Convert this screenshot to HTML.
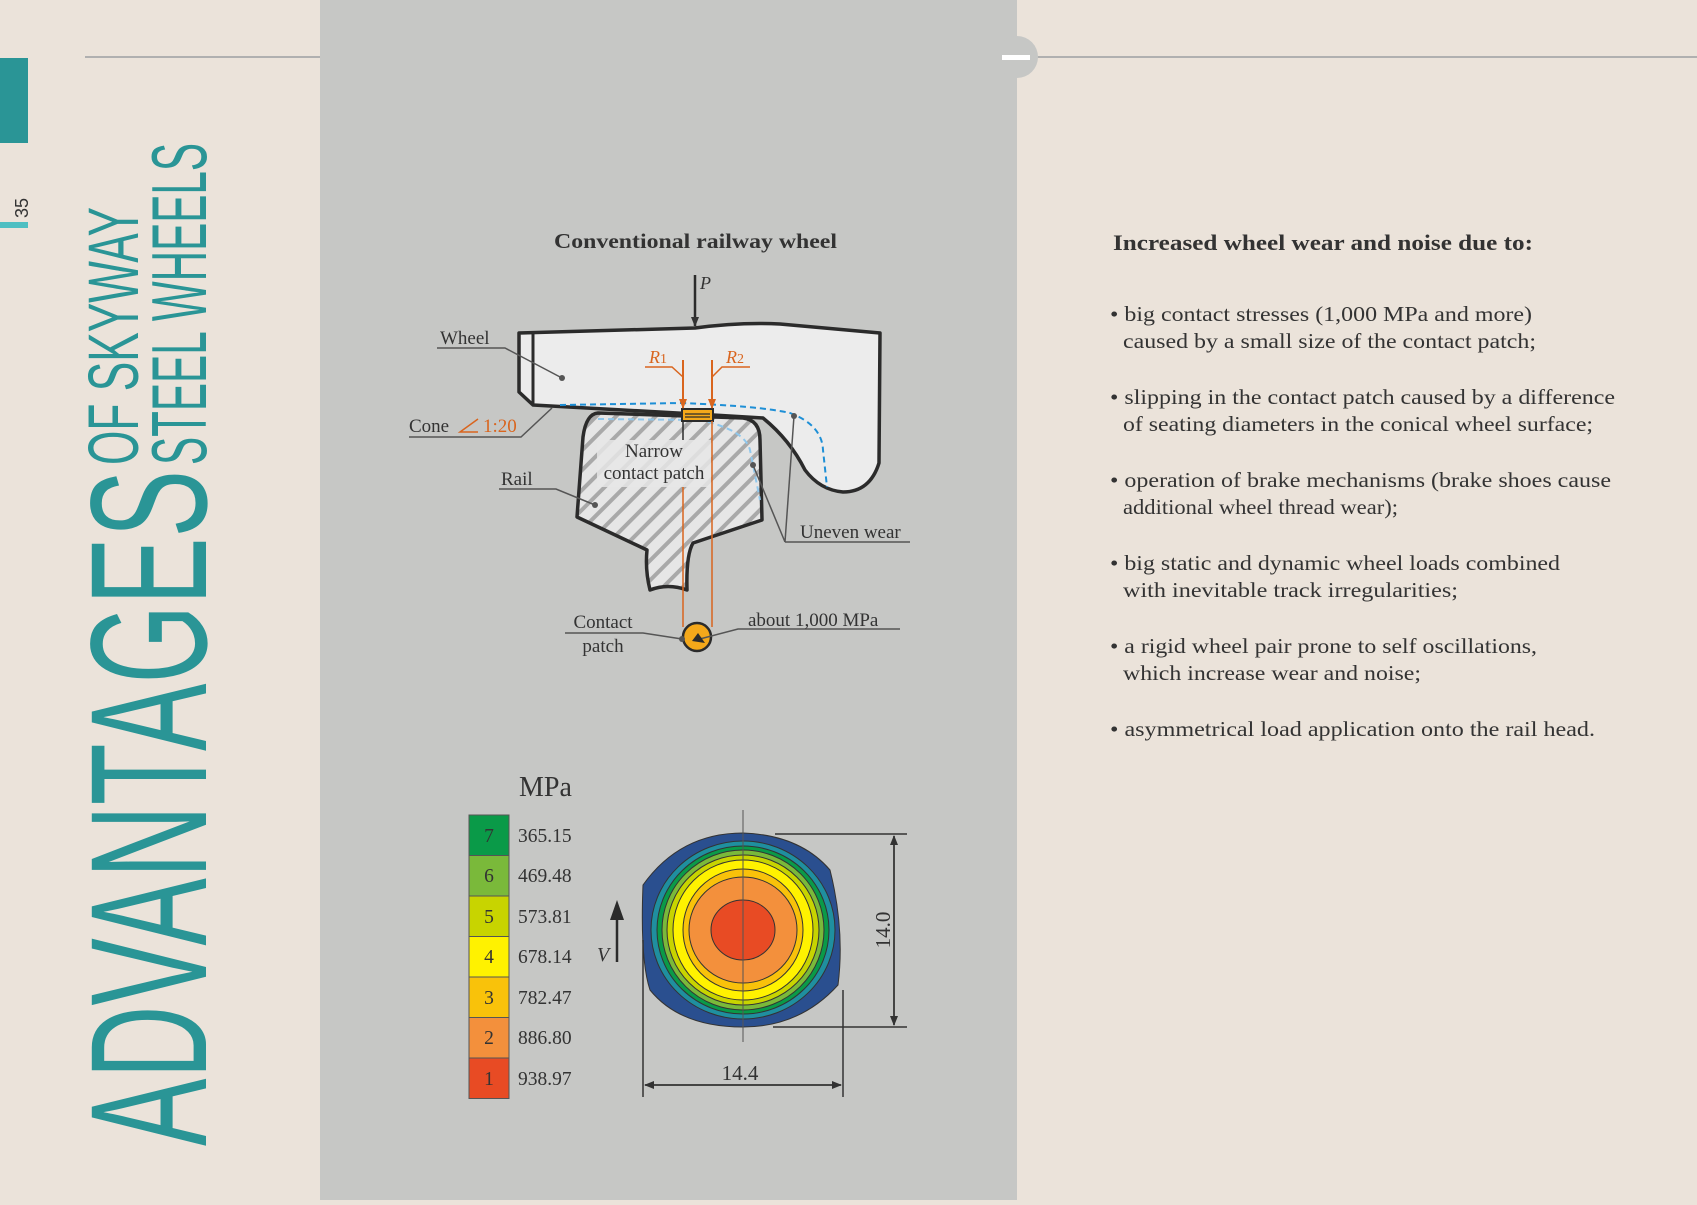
<!DOCTYPE html>
<html><head><meta charset="utf-8"><style>
html,body{margin:0;padding:0;}
body{width:1697px;height:1200px;background:#ebe3da;overflow:hidden;}
svg text{font-family:"Liberation Serif",serif;fill:#333;}
</style></head><body>
<svg width="1697" height="1200" viewBox="0 0 1697 1200" xmlns="http://www.w3.org/2000/svg">
<defs>
<pattern id="h" width="14" height="14" patternUnits="userSpaceOnUse" patternTransform="rotate(45)">
<rect width="14" height="14" fill="#e6e6e6"/><rect width="4" height="14" fill="#a9a9a9"/>
</pattern>
<marker id="ab" markerWidth="10" markerHeight="10" refX="9" refY="5" orient="auto" markerUnits="userSpaceOnUse"><path d="M0,1 L10,5 L0,9z" fill="#333"/></marker>
<marker id="ao" markerWidth="10" markerHeight="10" refX="9" refY="5" orient="auto" markerUnits="userSpaceOnUse"><path d="M0,1 L10,5 L0,9z" fill="#d9651e"/></marker>
</defs>
<rect x="320" y="0" width="697" height="1200" fill="#c6c7c5"/>
<line x1="85" y1="57" x2="320" y2="57" stroke="#b0b0b0" stroke-width="2"/>
<line x1="1037" y1="57" x2="1697" y2="57" stroke="#b0b0b0" stroke-width="2"/>
<circle cx="1017" cy="57" r="21" fill="#c6c7c5"/>
<rect x="1002" y="55" width="28" height="5" fill="#fff"/>
<rect x="0" y="58" width="28" height="85" fill="#2a9596"/>
<rect x="0" y="222" width="28" height="6" fill="#4dbfc2"/>
<text transform="translate(28,218) rotate(-90)" font-size="18" style="font-family:'Liberation Sans Narrow','Liberation Sans',sans-serif">35</text>
<g style="font-family:'Liberation Sans Narrow','Liberation Sans',sans-serif">
<text transform="translate(206,1146) rotate(-90)" font-size="166" textLength="676" lengthAdjust="spacingAndGlyphs" style="fill:#2a9596;font-family:'Liberation Sans Narrow','Liberation Sans',sans-serif">ADVANTAGES</text>
<text transform="translate(138,465) rotate(-90)" font-size="71" textLength="258" lengthAdjust="spacingAndGlyphs" style="fill:#2a9596;font-family:'Liberation Sans Narrow','Liberation Sans',sans-serif">OF SKYWAY</text>
<text transform="translate(206,465) rotate(-90)" font-size="78" textLength="322" lengthAdjust="spacingAndGlyphs" style="fill:#2a9596;font-family:'Liberation Sans Narrow','Liberation Sans',sans-serif">STEEL WHEELS</text>
</g>
<text x="554" y="248" font-size="21" font-weight="bold" textLength="283" lengthAdjust="spacingAndGlyphs">Conventional railway wheel</text>
<!-- wheel -->
<path d="M519,333 L695,328 Q740,322 780,324 L880,333 L879,463 Q870,492 843,492 Q820,490 805,470 Q790,440 763,418 L713,415 L533,405 L519,392 Z" fill="#ececec" stroke="#2b2b2b" stroke-width="3.5" stroke-linejoin="round"/>
<line x1="533" y1="333" x2="533" y2="405" stroke="#2b2b2b" stroke-width="3"/>
<!-- rail -->
<path d="M598,413 L743,418 Q760,420 760,440 L762,520 L693,543 Q686,555 687,590 Q668,583 650,590 Q645,570 647,550 L577,517 L583,437 Q586,414 598,413 Z" fill="url(#h)" stroke="#2b2b2b" stroke-width="3.5" stroke-linejoin="round"/>
<path d="M560,405 L680,403 Q760,406 790,413 Q822,425 823,450 L827,487" fill="none" stroke="#1e8fd6" stroke-width="2" stroke-dasharray="6,4"/>
<path d="M598,419 L700,420 Q745,430 750,450 L760,500" fill="none" stroke="#8fc7ec" stroke-width="2" stroke-dasharray="6,4"/>
<rect x="682" y="409" width="31" height="12" fill="#f4a81a" stroke="#2b2b2b" stroke-width="2"/>
<line x1="685" y1="414" x2="710" y2="414" stroke="#2b2b2b" stroke-width="1.2"/>
<line x1="685" y1="417" x2="710" y2="417" stroke="#2b2b2b" stroke-width="1.2"/>
<!-- P -->
<line x1="695" y1="275" x2="695" y2="326" stroke="#2b2b2b" stroke-width="2.5" marker-end="url(#ab)"/>
<text x="700" y="289" font-size="18" font-style="italic">P</text>
<!-- R lines -->
<line x1="683" y1="360" x2="683" y2="408" stroke="#d9651e" stroke-width="2" marker-end="url(#ao)"/>
<line x1="712" y1="360" x2="712" y2="408" stroke="#d9651e" stroke-width="2" marker-end="url(#ao)"/>
<polyline points="645,367 672,367 683,377" fill="none" stroke="#d9651e" stroke-width="1.5"/>
<polyline points="750,367 722,367 712,377" fill="none" stroke="#d9651e" stroke-width="1.5"/>
<text x="649" y="363" font-size="18" font-style="italic" style="fill:#d9651e">R<tspan font-size="14" font-style="normal">1</tspan></text>
<text x="726" y="363" font-size="18" font-style="italic" style="fill:#d9651e">R<tspan font-size="14" font-style="normal">2</tspan></text>
<line x1="683" y1="421" x2="683" y2="440" stroke="#2b2b2b" stroke-width="1.5"/>
<line x1="683" y1="487" x2="683" y2="627" stroke="#d9651e" stroke-width="1.5"/>
<line x1="712" y1="421" x2="712" y2="627" stroke="#d9651e" stroke-width="1.5"/>
<rect x="597" y="440" width="114" height="47" fill="#e6e6e6" opacity="0.85"/>
<text x="654" y="457" font-size="19" text-anchor="middle">Narrow</text>
<text x="654" y="479" font-size="19" text-anchor="middle">contact patch</text>
<circle cx="697" cy="637" r="14" fill="#f4a81a" stroke="#2b2b2b" stroke-width="2.5"/>
<!-- labels -->
<g stroke="#555" stroke-width="1.5" fill="none">
<polyline points="437,348 505,348 562,378"/>
<polyline points="409,437 521,437 552,408"/>
<polyline points="499,489 556,489 595,505"/>
<polyline points="785,542 910,542"/>
<line x1="785" y1="542" x2="794" y2="416"/>
<line x1="785" y1="542" x2="753" y2="465"/>
<polyline points="565,633 643,633 682,639"/>
<polyline points="900,629 738,629 696,640"/>
</g>
<g fill="#555"><circle cx="562" cy="378" r="3"/><circle cx="595" cy="505" r="3"/><circle cx="794" cy="416" r="3"/><circle cx="753" cy="465" r="3"/><circle cx="682" cy="639" r="3"/></g>
<path d="M705,643 L692,641 L698,633 Z" fill="#2b2b2b"/>
<text x="440" y="344" font-size="19">Wheel</text>
<text x="409" y="432" font-size="19">Cone</text>
<polyline points="478,419 460,432 478,432" fill="none" stroke="#d9651e" stroke-width="1.5"/>
<text x="483" y="432" font-size="19" style="fill:#d9651e">1:20</text>
<text x="501" y="485" font-size="19">Rail</text>
<text x="800" y="538" font-size="19">Uneven wear</text>
<text x="603" y="628" font-size="19" text-anchor="middle">Contact</text>
<text x="603" y="652" font-size="19" text-anchor="middle">patch</text>
<text x="748" y="626" font-size="19">about 1,000 MPa</text>
<!-- legend -->
<text x="519" y="796" font-size="28">MPa</text>
<g stroke="#555" stroke-width="1">
<rect x="469" y="815" width="40" height="40.5" fill="#0a9a48"/>
<rect x="469" y="855.5" width="40" height="40.5" fill="#7ab93a"/>
<rect x="469" y="896" width="40" height="40.5" fill="#c8d400"/>
<rect x="469" y="936.5" width="40" height="40.5" fill="#fff200"/>
<rect x="469" y="977" width="40" height="40.5" fill="#f9c20a"/>
<rect x="469" y="1017.5" width="40" height="40.5" fill="#f3903c"/>
<rect x="469" y="1058" width="40" height="40.5" fill="#e84b24"/>
</g>
<g font-size="19.5">
<text x="489" y="842" text-anchor="middle">7</text><text x="518" y="842">365.15</text>
<text x="489" y="882" text-anchor="middle">6</text><text x="518" y="882">469.48</text>
<text x="489" y="923" text-anchor="middle">5</text><text x="518" y="923">573.81</text>
<text x="489" y="963" text-anchor="middle">4</text><text x="518" y="963">678.14</text>
<text x="489" y="1004" text-anchor="middle">3</text><text x="518" y="1004">782.47</text>
<text x="489" y="1044" text-anchor="middle">2</text><text x="518" y="1044">886.80</text>
<text x="489" y="1085" text-anchor="middle">1</text><text x="518" y="1085">938.97</text>
</g>
<line x1="617" y1="962" x2="617" y2="905" stroke="#2b2b2b" stroke-width="2.5"/>
<path d="M617,900 L610,920 L624,920 Z" fill="#2b2b2b"/>
<text x="597" y="961" font-size="20" font-style="italic">V</text>
<!-- contour -->
<g stroke="#333" stroke-width="1">
<path d="M643,885 Q680,833 743,833 Q800,835 830,870 Q845,930 838,985 Q800,1027 743,1027 Q680,1027 650,990 Q640,960 643,885 Z" fill="#2a4f8f"/>
<ellipse cx="743" cy="930" rx="92" ry="89" fill="#1f8f9f"/>
<ellipse cx="743" cy="930" rx="86" ry="84" fill="#0a9a48"/>
<ellipse cx="743" cy="930" rx="81" ry="80" fill="#7ab93a"/>
<ellipse cx="743" cy="930" rx="76" ry="75" fill="#c8d400"/>
<ellipse cx="743" cy="930" rx="70" ry="70" fill="#fff200"/>
<ellipse cx="743" cy="930" rx="60" ry="61" fill="#f9c20a"/>
<ellipse cx="743" cy="930" rx="54" ry="53" fill="#f3903c"/>
<ellipse cx="743" cy="930" rx="32" ry="30" fill="#e84b24"/>
</g>
<line x1="743" y1="810" x2="743" y2="1042" stroke="#555" stroke-width="1"/>
<g stroke="#333" stroke-width="1.5">
<line x1="643" y1="940" x2="643" y2="1097"/>
<line x1="843" y1="990" x2="843" y2="1097"/>
<line x1="775" y1="834" x2="907" y2="834"/>
<line x1="773" y1="1027" x2="907" y2="1027"/>
<line x1="645" y1="1085" x2="841" y2="1085" marker-end="url(#ab)"/>
<line x1="841" y1="1085" x2="645" y2="1085" marker-end="url(#ab)"/>
<line x1="894" y1="1025" x2="894" y2="836" marker-end="url(#ab)"/>
<line x1="894" y1="836" x2="894" y2="1025" marker-end="url(#ab)"/>
</g>
<text x="740" y="1080" font-size="21" text-anchor="middle">14.4</text>
<text transform="translate(890,930) rotate(-90)" font-size="21" text-anchor="middle">14.0</text>
<!-- right text -->
<text x="1113" y="250" font-size="22" font-weight="bold" textLength="420" lengthAdjust="spacingAndGlyphs">Increased wheel wear and noise due to:</text>
<g font-size="21">
<text x="1110" y="321" textLength="422" lengthAdjust="spacingAndGlyphs">• big contact stresses (1,000 MPa and more)</text>
<text x="1123" y="348" textLength="413" lengthAdjust="spacingAndGlyphs">caused by a small size of the contact patch;</text>
<text x="1110" y="404" textLength="505" lengthAdjust="spacingAndGlyphs">• slipping in the contact patch caused by a difference</text>
<text x="1123" y="431" textLength="470" lengthAdjust="spacingAndGlyphs">of seating diameters in the conical wheel surface;</text>
<text x="1110" y="487" textLength="501" lengthAdjust="spacingAndGlyphs">• operation of brake mechanisms (brake shoes cause</text>
<text x="1123" y="514" textLength="275" lengthAdjust="spacingAndGlyphs">additional wheel thread wear);</text>
<text x="1110" y="570" textLength="450" lengthAdjust="spacingAndGlyphs">• big static and dynamic wheel loads combined</text>
<text x="1123" y="597" textLength="335" lengthAdjust="spacingAndGlyphs">with inevitable track irregularities;</text>
<text x="1110" y="653" textLength="427" lengthAdjust="spacingAndGlyphs">• a rigid wheel pair prone to self oscillations,</text>
<text x="1123" y="680" textLength="298" lengthAdjust="spacingAndGlyphs">which increase wear and noise;</text>
<text x="1110" y="736" textLength="485" lengthAdjust="spacingAndGlyphs">• asymmetrical load application onto the rail head.</text>
</g>
</svg>
</body></html>
